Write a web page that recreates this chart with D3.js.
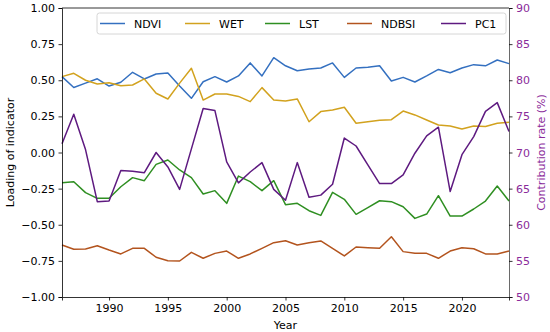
<!DOCTYPE html>
<html>
<head>
<meta charset="utf-8">
<script src="https://cdn.jsdelivr.net/npm/d3@7"></script>
<style>
  body { margin: 0; background: #fff; }
  svg { font-family: "DejaVu Sans", sans-serif; }
</style>
</head>
<body>
<div id="chartContainer"></div>
<script>
const years = d3.range(1986, 2025);

const ndvi = [0.525, 0.45, 0.48, 0.51, 0.46, 0.486, 0.555, 0.509, 0.543, 0.55,
    0.46, 0.375, 0.49, 0.525, 0.488, 0.53, 0.62, 0.53, 0.656, 0.6,
    0.566, 0.578, 0.585, 0.62, 0.52, 0.585, 0.59, 0.6, 0.495, 0.52,
    0.488, 0.53, 0.575, 0.552, 0.585, 0.608, 0.6, 0.64, 0.615];

const wet = [0.525, 0.548, 0.5, 0.474, 0.483, 0.462, 0.467, 0.509, 0.41, 0.37,
    0.48, 0.583, 0.363, 0.405, 0.405, 0.388, 0.352, 0.449, 0.364, 0.357,
    0.371, 0.213, 0.283, 0.294, 0.313, 0.202, 0.213, 0.223, 0.227, 0.287,
    0.26, 0.225, 0.19, 0.183, 0.163, 0.183, 0.18, 0.202, 0.209];

const lst = [-0.209, -0.202, -0.278, -0.317, -0.317, -0.237, -0.174, -0.195, -0.082, -0.052,
    -0.121, -0.174, -0.287, -0.264, -0.352, -0.163, -0.202, -0.264, -0.195, -0.361,
    -0.352, -0.403, -0.435, -0.276, -0.324, -0.428, -0.382, -0.334, -0.34, -0.375,
    -0.456, -0.426, -0.299, -0.44, -0.44, -0.391, -0.336, -0.232, -0.336];

const ndbsi = [-0.64, -0.67, -0.668, -0.645, -0.675, -0.702, -0.663, -0.663, -0.725, -0.749,
    -0.751, -0.691, -0.732, -0.698, -0.682, -0.732, -0.702, -0.663, -0.624, -0.611,
    -0.64, -0.624, -0.612, -0.663, -0.716, -0.654, -0.659, -0.663, -0.583, -0.686,
    -0.698, -0.698, -0.732, -0.682, -0.659, -0.666, -0.702, -0.702, -0.682];

const pc1 = [71.2, 75.3, 70.4, 63.2, 63.3, 67.5, 67.4, 67.2, 70.0, 68.0,
    64.9, 70.5, 76.1, 75.8, 68.7, 65.8, 67.3, 68.6, 64.9, 63.4,
    68.6, 63.8, 64.1, 65.6, 72.0, 70.9, 68.3, 65.7, 65.7, 66.9,
    69.9, 72.3, 73.5, 64.6, 69.7, 72.2, 75.7, 76.9, 72.9];

const leftTicks = [-1, -0.75, -0.5, -0.25, 0, 0.25, 0.5, 0.75, 1];
const rightTicks = [50, 55, 60, 65, 70, 75, 80, 85, 90];
const xTicks = [1990, 1995, 2000, 2005, 2010, 2015, 2020];

const colors = {
    NDVI: '#3470c0',
    WET: '#d2a21e',
    LST: '#2f8f22',
    NDBSI: '#b3541e',
    PC1: '#5e1a80'
};
const purpleText = '#8a2a9a';

const svgWidth = 550;
const svgHeight = 332;
const margin = { top: 8, right: 41, bottom: 35, left: 62 };
const chartWidth = svgWidth - margin.left - margin.right;
const chartHeight = svgHeight - margin.top - margin.bottom;

const svg = d3.select('#chartContainer')
    .append('svg')
    .attr('width', svgWidth)
    .attr('height', svgHeight);

const chart = svg.append('g')
    .attr('transform', `translate(${margin.left}, ${margin.top})`);

const xScale = d3.scaleLinear().domain([1986, 2024]).range([0, chartWidth]);
const yScale = d3.scaleLinear().domain([-1, 1]).range([chartHeight, 0]);
const y2Scale = d3.scaleLinear().domain([50, 90]).range([chartHeight, 0]);

const series = [
    { name: 'NDVI', values: ndvi, scale: yScale },
    { name: 'WET', values: wet, scale: yScale },
    { name: 'LST', values: lst, scale: yScale },
    { name: 'NDBSI', values: ndbsi, scale: yScale },
    { name: 'PC1', values: pc1, scale: y2Scale }
];

// lines
series.forEach(s => {
    const line = d3.line()
        .x((d, i) => xScale(years[i]))
        .y(d => s.scale(d));
    chart.append('path')
        .datum(s.values)
        .attr('fill', 'none')
        .attr('stroke', colors[s.name])
        .attr('stroke-width', 1.5)
        .attr('stroke-linejoin', 'round')
        .attr('d', line);
});

// axes
const xAxis = chart.append('g')
    .attr('transform', `translate(0, ${chartHeight})`)
    .call(d3.axisBottom(xScale).tickValues(xTicks).tickFormat(d3.format('d')).tickSizeOuter(0).tickSize(3.5).tickPadding(3.5));

const yAxis = chart.append('g')
    .call(d3.axisLeft(yScale).tickValues(leftTicks).tickFormat(d => d3.format('.2f')(d).replace('-', '\u2212')).tickSizeOuter(0).tickSize(3.5).tickPadding(3.5));

const y2Axis = chart.append('g')
    .attr('transform', `translate(${chartWidth}, 0)`)
    .call(d3.axisRight(y2Scale).tickValues(rightTicks).tickSizeOuter(0).tickSize(3.5).tickPadding(3.5));

[xAxis, yAxis, y2Axis].forEach(a => {
    a.selectAll('text').attr('font-size', 11).attr('font-family', '"DejaVu Sans", sans-serif').attr('fill', '#000');
    a.selectAll('.domain').attr('stroke', '#000').attr('stroke-width', 0.8);
    a.selectAll('.tick line').attr('stroke', '#000').attr('stroke-width', 0.8);
});
y2Axis.selectAll('text').attr('fill', purpleText);
y2Axis.selectAll('.domain').attr('stroke', '#444');

// top spine
chart.append('line')
    .attr('x1', 0).attr('x2', chartWidth)
    .attr('y1', 0).attr('y2', 0)
    .attr('stroke', '#000').attr('stroke-width', 0.8);

// axis titles
chart.append('text')
    .attr('x', chartWidth / 2)
    .attr('y', chartHeight + 32)
    .attr('text-anchor', 'middle')
    .attr('font-size', 11)
    .text('Year');

chart.append('text')
    .attr('transform', 'rotate(-90)')
    .attr('x', -chartHeight / 2)
    .attr('y', -margin.left + 14)
    .attr('text-anchor', 'middle')
    .attr('font-size', 11)
    .text('Loading of indicator');

chart.append('text')
    .attr('transform', 'rotate(-90)')
    .attr('x', -chartHeight / 2)
    .attr('y', chartWidth + 36)
    .attr('text-anchor', 'middle')
    .attr('font-size', 11)
    .attr('fill', purpleText)
    .text('Contribution rate (%)');

// legend
const legend = chart.append('g')
    .attr('transform', 'translate(35, 5)');

legend.append('rect')
    .attr('x', 0).attr('y', 0)
    .attr('width', 409).attr('height', 21)
    .attr('rx', 2.5)
    .attr('fill', '#fff').attr('fill-opacity', 0.8)
    .attr('stroke', '#ccc').attr('stroke-width', 0.8);

const legendX = [3, 88, 168, 250, 344];
series.forEach((s, i) => {
    const g = legend.append('g').attr('transform', `translate(${legendX[i]}, 10.5)`);
    g.append('line')
        .attr('x1', 0).attr('x2', 25)
        .attr('stroke', colors[s.name]).attr('stroke-width', 1.5);
    g.append('text')
        .attr('x', 34).attr('y', 4)
        .attr('font-size', 11)
        .text(s.name);
});
</script>
</body>
</html>
